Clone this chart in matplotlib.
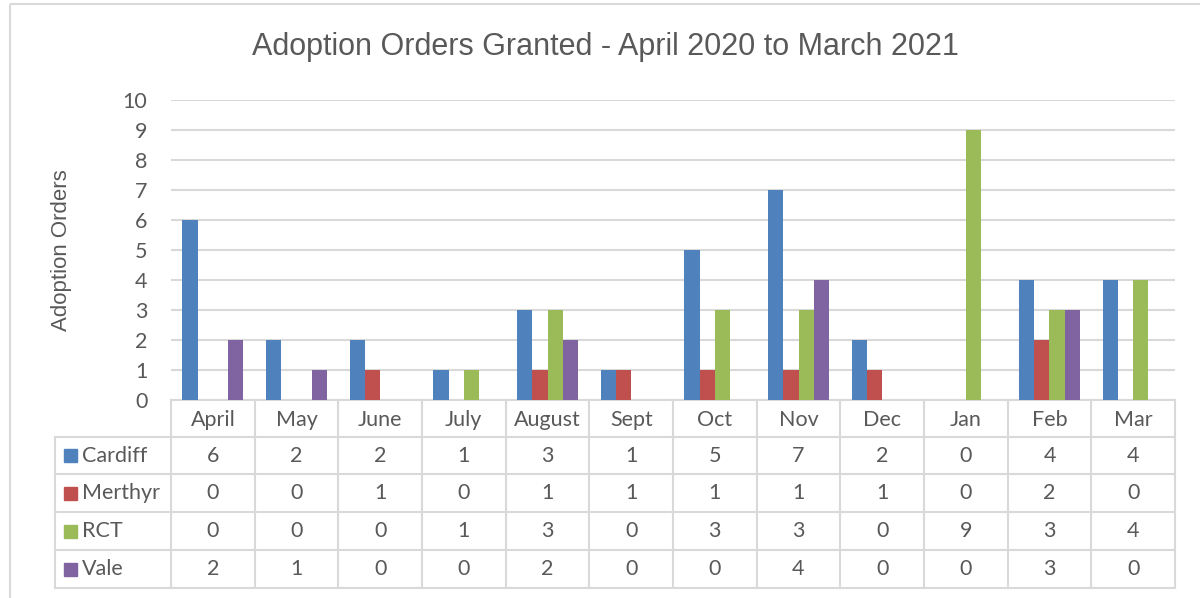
import matplotlib
matplotlib.use("Agg")
import matplotlib.pyplot as plt
import numpy as np
from matplotlib.patches import Rectangle

months = ["April", "May", "June", "July", "August", "Sept", "Oct", "Nov", "Dec", "Jan", "Feb", "Mar"]
series_names = ["Cardiff", "Merthyr", "RCT", "Vale"]
cardiff = [6, 2, 2, 1, 3, 1, 5, 7, 2, 0, 4, 4]
merthyr = [0, 0, 1, 0, 1, 1, 1, 1, 1, 0, 2, 0]
rct = [0, 0, 0, 1, 3, 0, 3, 3, 0, 9, 3, 4]
vale = [2, 1, 0, 0, 2, 0, 0, 4, 0, 0, 3, 0]
colors = ["#4F81BD", "#C0504D", "#9BBB59", "#8064A2"]

W, H = 1200, 598
txt = "#595959"
grid = "#D9D9D9"
body_font = ["Lato", "DejaVu Sans"]
head_font = ["Liberation Sans", "DejaVu Sans"]
fs = 15.5

fig = plt.figure(figsize=(12, 5.98), dpi=100)

# overlay axes in pixel coords for border + table
bg = fig.add_axes([0, 0, 1, 1], zorder=0)
bg.set_xlim(0, W)
bg.set_ylim(H, 0)
bg.axis("off")
bg.add_patch(Rectangle((10, 4), W + 20, H + 20, fill=False, ec=grid, lw=1.5))

# plot area
x0, x1, y0, y1 = 171, 1175, 100, 400
ax = fig.add_axes([x0 / W, 1 - y1 / H, (x1 - x0) / W, (y1 - y0) / H], zorder=1)
ax.patch.set_alpha(0)
data = [cardiff, merthyr, rct, vale]
n = len(months)
x = np.arange(n)
w = 1 / 5.5
for i, (vals, c) in enumerate(zip(data, colors)):
    ax.bar(x + (i - 1.5) * w, vals, width=w, color=c, zorder=3)
ax.set_xlim(-0.5, n - 0.5)
ax.set_ylim(0, 10)
ax.set_yticks(range(11))
ax.yaxis.grid(True, color=grid, lw=1.5, zorder=0)
ax.set_xticks([])
for s in ax.spines.values():
    s.set_visible(False)
ax.tick_params(axis="y", length=0, pad=17, labelsize=fs, labelcolor=txt)
for lab in ax.get_yticklabels():
    lab.set_fontfamily(body_font)

# title and y label
fig.text(605 / W, 1 - 47 / H, "Adoption Orders Granted - April 2020 to March 2021",
         ha="center", va="center", fontsize=22, color=txt, family=head_font)
fig.text(61 / W, 1 - 250 / H, "Adoption Orders", rotation=90, ha="center", va="center",
         fontsize=16, color=txt, family=head_font)

# data table
col_w = (x1 - x0) / n
rows_y = [400, 437, 474, 512, 550, 588]
left = 55
lc = "#D9D9D9"
bg.plot([x0, x1], [rows_y[0], rows_y[0]], color=lc, lw=1.5)
for yy in rows_y[1:]:
    bg.plot([left, x1], [yy, yy], color=lc, lw=1.5)
bg.plot([left, left], [rows_y[1], rows_y[-1]], color=lc, lw=1.5)
for j in range(n + 1):
    xx = x0 + j * col_w
    bg.plot([xx, xx], [rows_y[0], rows_y[-1]], color=lc, lw=1.5)
for j, m in enumerate(months):
    bg.text(x0 + (j + 0.5) * col_w, (rows_y[0] + rows_y[1]) / 2 + 1.5, m, ha="center", va="center",
            fontsize=fs, color=txt, family=body_font)
for r, (name, vals, c) in enumerate(zip(series_names, data, colors)):
    yc = (rows_y[r + 1] + rows_y[r + 2]) / 2
    bg.add_patch(Rectangle((64, yc - 6.5), 13, 13, color=c))
    bg.text(82, yc, name, ha="left", va="center", fontsize=fs, color=txt, family=body_font)
    for j, v in enumerate(vals):
        bg.text(x0 + (j + 0.5) * col_w, yc, str(v), ha="center", va="center",
                fontsize=fs, color=txt, family=body_font)

fig.savefig("out.png", dpi=100)
